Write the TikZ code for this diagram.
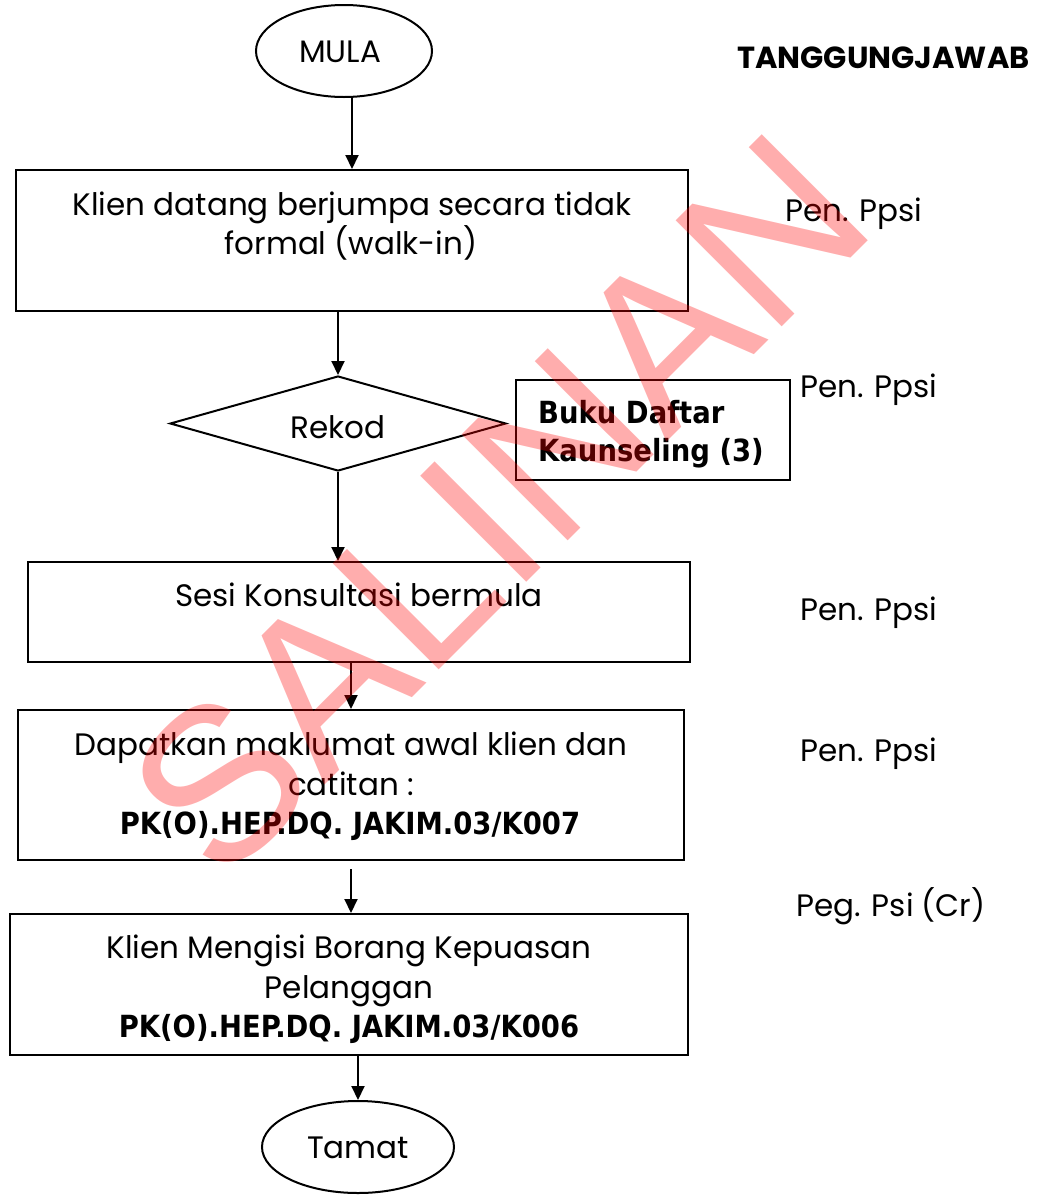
\documentclass[tikz,border=0pt]{standalone}
\usepackage{fontspec}
\setmainfont{Poppins}
\newfontfamily\codefont{DejaVu Sans Condensed Bold}
\newfontfamily\wmfont{Liberation Sans}
\usetikzlibrary{shapes.geometric,arrows.meta}

\tikzset{
  flow/.style={draw, line width=2pt},
  procbox/.style={flow, rectangle, inner sep=0pt},
  term/.style={flow, ellipse, inner sep=0pt},
  decision/.style={flow, diamond, inner sep=0pt, aspect=3.54},
  lbl/.style={anchor=base, inner sep=0pt, font=\fontsize{31}{37}\selectfont},
  codelbl/.style={anchor=base, inner sep=0pt, font=\codefont\fontsize{30.5}{36}\selectfont},
  sidelbl/.style={anchor=base west, inner sep=0pt, font=\fontsize{31}{37}\selectfont},
  arr/.style={line width=2pt, -{Triangle[length=14pt,width=13pt]}},
  watermark/.style={inner sep=0pt, text=red, text opacity=0.32, rotate=45,
    font=\wmfont\fontsize{218}{218}\selectfont},
}

\begin{document}
\begin{tikzpicture}[x=1pt,y=-1pt]
\useasboundingbox (0,0) rectangle (1037,1195);

% flow shapes
\node[term, minimum width=176pt, minimum height=92pt] (mula) at (344,51) {};
\node[procbox, minimum width=672pt, minimum height=141pt] (b1) at (352,240.5) {};
\node[decision, minimum width=336pt, minimum height=95pt] (rekod) at (338,423.5) {};
\node[procbox, minimum width=274pt, minimum height=100pt] (buku) at (653,430) {};
\node[procbox, minimum width=662pt, minimum height=100pt] (b3) at (359,612) {};
\node[procbox, minimum width=666pt, minimum height=150pt] (b4) at (351,785) {};
\node[procbox, minimum width=678pt, minimum height=141pt] (b5) at (349,984.5) {};
\node[term, minimum width=192pt, minimum height=92pt] (tamat) at (358,1147) {};

% texts inside the shapes
\node[lbl] (tmula) at (340,62) {MULA};
\node[lbl] (t1a) at (352,215) {Klien datang berjumpa secara tidak};
\node[lbl] (t1b) at (351,254) {formal (walk-in)};
\node[lbl] (trekod) at (338,438) {Rekod};
\node[codelbl, anchor=base west] (tbuku1) at (538,423) {Buku Daftar};
\node[codelbl, anchor=base west] (tbuku2) at (538,461) {Kaunseling (3)};
\node[lbl] (t3) at (359,606) {Sesi Konsultasi bermula};
\node[lbl] (t4a) at (351,755) {Dapatkan maklumat awal klien dan};
\node[lbl] (t4b) at (351,795) {catitan :};
\node[codelbl] (t4c) at (350,834) {PK(O).HEP.DQ. JAKIM.03/K007};
\node[lbl] (t5a) at (349,958) {Klien Mengisi Borang Kepuasan};
\node[lbl] (t5b) at (349,998) {Pelanggan};
\node[codelbl] (t5c) at (349,1037) {PK(O).HEP.DQ. JAKIM.03/K006};
\node[lbl] (ttamat) at (358,1158) {Tamat};

% responsibility column
\node[sidelbl, font=\bfseries\fontsize{30.5}{34}\selectfont] (thead) at (737,68) {TANGGUNGJAWAB};
\node[sidelbl] (r1) at (785,221) {Pen. Ppsi};
\node[sidelbl] (r2) at (800,397) {Pen. Ppsi};
\node[sidelbl] (r3) at (800,620) {Pen. Ppsi};
\node[sidelbl] (r4) at (800,761) {Pen. Ppsi};
\node[sidelbl] (r5) at (796,916) {Peg. Psi (Cr)};

% connectors
\draw[arr] (b1.north |- mula.south) -- (b1.north);
\draw[arr] (rekod.north |- b1.south) -- (rekod.north);
\draw[arr] (rekod.south) -- (rekod.south |- b3.north);
\draw[arr] (b4.north |- b3.south) -- (b4.north);
\coordinate (b4out) at ([yshift=-8pt]b4.south);
\draw[arr] (b4out) -- (b4out |- b5.north);
\draw[arr] (tamat.north |- b5.south) -- (tamat.north);

% copy stamp
\node[watermark] (stamp) at (498,505) {SALINAN};
\end{tikzpicture}
\end{document}
